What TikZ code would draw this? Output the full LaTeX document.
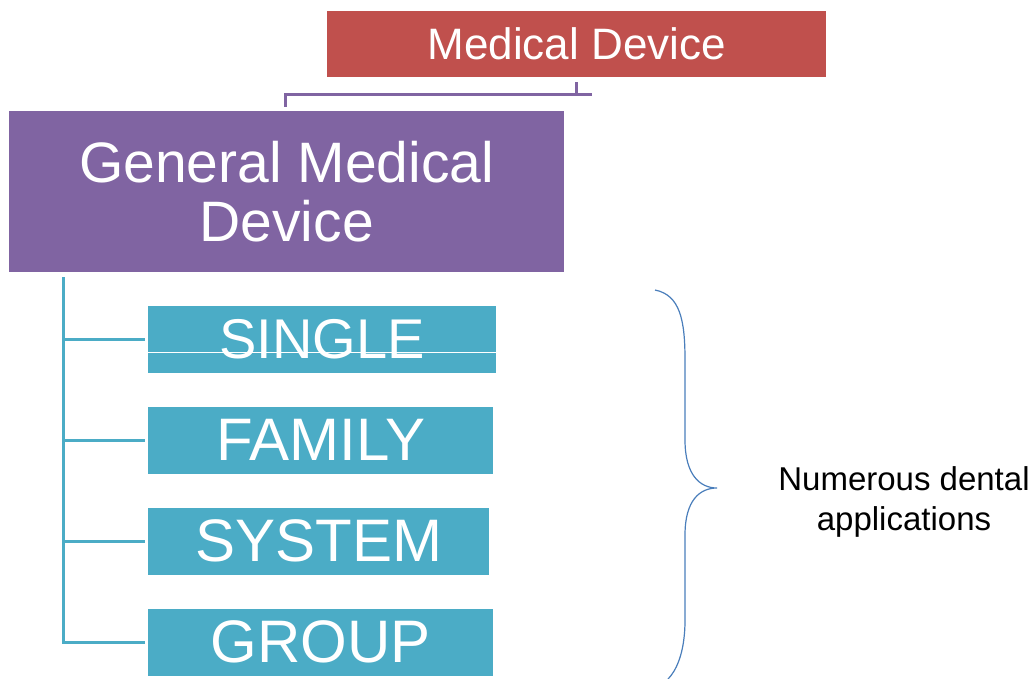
\documentclass[tikz,border=0pt]{standalone}
\usepackage{fontspec}
\setmainfont{Liberation Sans}
\definecolor{devred}{HTML}{C0504D}
\definecolor{devpurple}{HTML}{8064A2}
\definecolor{devcyan}{HTML}{4BACC6}
\definecolor{bracebl}{HTML}{4A7EBB}

\begin{document}
\begin{tikzpicture}[x=1pt,y=-1pt,
    box/.style={inner sep=0pt,text=white,anchor=north west},
    kind/.style={box,fill=devcyan,minimum height=67pt},
    pline/.style={devpurple,line width=3pt},
    cline/.style={devcyan,line width=3pt}]
  \useasboundingbox (0,0) rectangle (1035,679);

  \node[box,fill=devred,minimum width=499pt,minimum height=66pt,%
    font=\fontsize{44}{46}\selectfont] (md) at (327,11) {Medical Device};
  \node[box,fill=devpurple,minimum width=555pt,minimum height=161pt,%
    align=center,font=\fontsize{57}{59}\selectfont] (gmd) at (9,111)
    {General Medical\\Device};

  \foreach \n/\t/\y/\w/\s in {single/SINGLE/306/348/56,family/FAMILY/407/345/60,%
      system/SYSTEM/508/341/60,group/GROUP/609/345/60}
    \node[kind,minimum width=\w pt,font=\fontsize{\s}{\s}\selectfont]
      (\n) at (148,\y) {\raisebox{2pt}{\t}};
  \draw[white,line width=1pt] (single.west |- 0,352) -- (single.east |- 0,352);

  \coordinate (bar-r) at (592,95);
  \coordinate (bar-l) at (285,95);
  \draw[pline] ([yshift=-5pt]md.south) -- (md.south |- bar-r);
  \draw[pline] (bar-r) -- (bar-l) -- ([yshift=4pt]gmd.north -| bar-l);

  \coordinate (trunk) at (63,277);
  \draw[cline] (trunk) |- ([xshift=-3pt]group.west);
  \foreach \n in {single,family,system}
    \draw[cline] (trunk |- \n.west) -- ([xshift=-3pt]\n.west);

  \draw[bracebl,line width=1.2pt] (655,290) .. controls (680,295) and (685,320) .. (685,360)
    -- (685,440) .. controls (685,475) and (700,488) .. (717,488)
    .. controls (700,488) and (685,500) .. (685,535)
    -- (685,620) .. controls (685,655) and (675,672) .. (668,679);

  \node[align=center,font=\fontsize{33}{40}\selectfont] (apps) at (904,502)
    {Numerous dental\\applications};
\end{tikzpicture}
\end{document}
